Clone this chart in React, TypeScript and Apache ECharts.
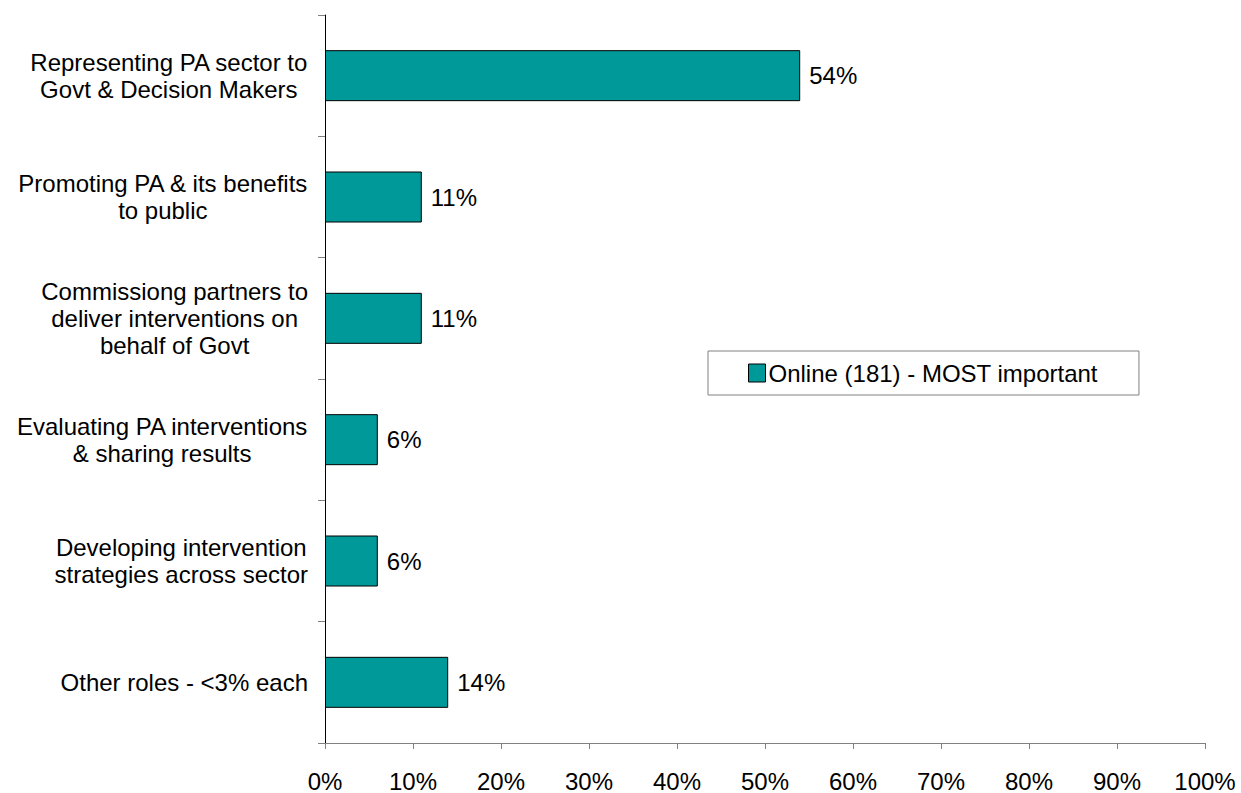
import React, { useEffect, useRef } from "react";
import * as echarts from "echarts";

const categories = [
  "Representing PA sector to\nGovt & Decision Makers",
  "Promoting PA & its benefits\nto public",
  "Commissiong partners to\ndeliver interventions on\nbehalf of Govt",
  "Evaluating PA interventions\n& sharing results",
  "Developing intervention\nstrategies across sector",
  "Other roles - <3% each",
];
const values = [54, 11, 11, 6, 6, 14];
const seriesName = "Online (181) - MOST important";
const xTicks = [0, 10, 20, 30, 40, 50, 60, 70, 80, 90, 100];

const FONT = "'Liberation Sans', Arial, sans-serif";

export default function App() {
  const ref = useRef<HTMLDivElement>(null);
  useEffect(() => {
    if (!ref.current) return;
    const chart = echarts.init(ref.current, undefined, { renderer: "svg" });
    chart.setOption({
      animation: false,
      backgroundColor: "#ffffff",
      textStyle: { fontFamily: FONT },
      grid: { left: 325, right: 36, top: 15, bottom: 50, containLabel: false },
      legend: {
        show: true,
        data: [seriesName],
        left: 708,
        top: 351,
        orient: "horizontal",
        borderColor: "#808080",
        borderWidth: 1,
        padding: [10, 41, 10, 40],
        itemWidth: 17,
        itemHeight: 18,
        icon: "rect",
        itemStyle: { borderColor: "#000", borderWidth: 1 },
        textStyle: { fontSize: 24, color: "#000", fontFamily: FONT, padding: [0, 0, 0, -2] },
      },
      xAxis: {
        type: "value",
        min: xTicks[0],
        max: xTicks[xTicks.length - 1],
        interval: 10,
        axisLine: { show: true, lineStyle: { color: "#808080", width: 1 } },
        axisTick: { show: true, length: 6, lineStyle: { color: "#808080" } },
        splitLine: { show: false },
        axisLabel: {
          formatter: "{value}%",
          fontSize: 24,
          color: "#000",
          margin: 26,
          fontFamily: FONT,
        },
      },
      yAxis: {
        type: "category",
        data: categories,
        inverse: true,
        axisLine: { show: true, lineStyle: { color: "#000", width: 1 } },
        axisTick: { show: true, length: 7, alignWithLabel: false, lineStyle: { color: "#808080" } },
        axisLabel: {
          color: "#000",
          margin: 17,
          align: "right",
          formatter: (v: string) =>
            v
              .split("\n")
              .map((l) => `{c|${l}}`)
              .join("\n"),
          rich: {
            c: {
              align: "center",
              fontSize: 24,
              lineHeight: 27,
              color: "#000",
              fontFamily: FONT,
            },
          },
        },
      },
      series: [
        {
          name: seriesName,
          type: "bar",
          data: values,
          barWidth: 51,
          itemStyle: { color: "#009999", borderColor: "#000", borderWidth: 1 },
          label: {
            show: true,
            position: "right",
            distance: 9,
            formatter: "{c}%",
            fontSize: 24,
            color: "#000",
            fontFamily: FONT,
          },
        },
      ],
    });
    return () => chart.dispose();
  }, []);
  return (
    <div
      ref={ref}
      style={{ position: "fixed", left: 0, top: 0, width: 1241, height: 793, background: "#fff" }}
    />
  );
}
